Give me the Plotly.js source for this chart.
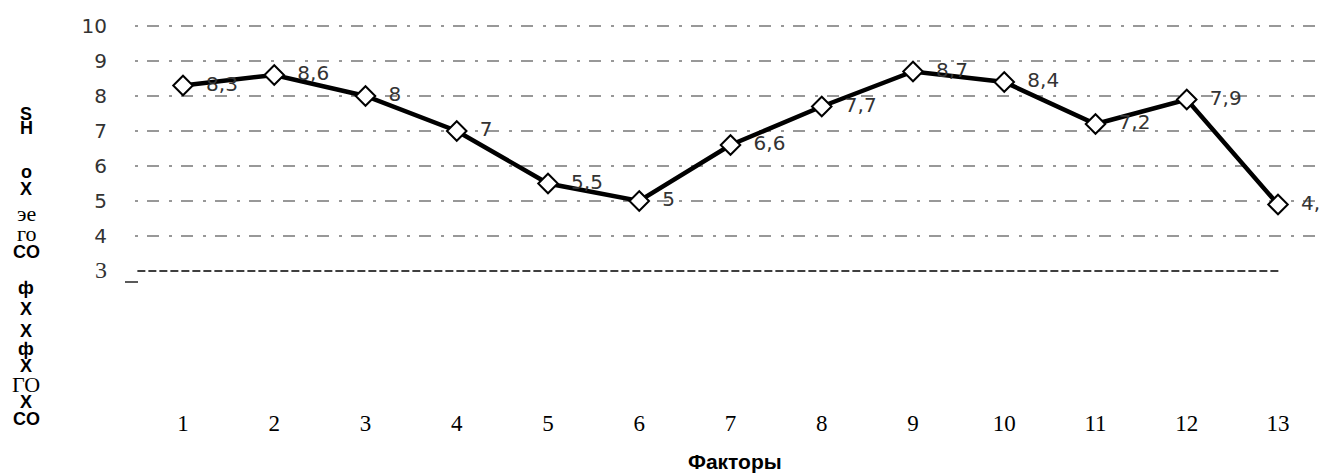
<!DOCTYPE html>
<html>
<head>
<meta charset="utf-8">
<script src="https://cdn.plot.ly/plotly-3.0.1.min.js"></script>
<style>html,body{margin:0;padding:0;background:#fff;}#chart{width:1320px;height:474px;}</style>
</head>
<body>
<div id="chart"></div>
<script>
// ---- data ----
const factors = [1, 2, 3, 4, 5, 6, 7, 8, 9, 10, 11, 12, 13];
const factorLabels = ['1','2','3','4','5','6','7','8','9','10','11','12','13'];
const values = [8.3, 8.6, 8, 7, 5.5, 5, 6.6, 7.7, 8.7, 8.4, 7.2, 7.9, 4.9];
const yTicks = [3, 4, 5, 6, 7, 8, 9, 10];
const yTickLabels = ['<span style="font-family:Liberation Serif;font-size:24px">3</span>','4','5','6','7','8','9','10'];
const xTitle = 'Факторы';
const yTitleParts = ['S','H','o','X','эе','го','CO','ф','X','X','ф','X','ГО','X','CO'];
const serifParts = ['эе','го','ГО'];

// ---- layout geometry (pixels) ----
const W = 1320, H = 474;
const mL = 135, mR = 0, mT = 15, mB = 79;
const plotH = H - mT - mB, plotW = W - mL - mR;
const yTitleY = [114, 128, 172, 189, 213, 233, 252, 288, 309, 331, 349, 366, 384, 402, 419];
const pyToPaper = py => (H - mB - py) / plotH;
const pxToPaper = px => (px - mL) / plotW;

const labels = values.map(v => '\u00a0\u00a0' + String(v).replace('.', ','));

const trace = {
  x: factors,
  y: values,
  type: 'scatter',
  mode: 'lines+markers+text',
  text: labels,
  textposition: 'middle right',
  textfont: {family: 'DejaVu Sans', size: 20, color: '#333'},
  cliponaxis: false,
  line: {color: '#000', width: 4.5},
  marker: {symbol: 'diamond', size: 15, color: '#fff', line: {color: '#000', width: 2}},
  hoverinfo: 'skip'
};

const shapes = [];
// broken grid lines at each level above the base
yTicks.slice(1).forEach(v => {
  shapes.push({type: 'line', xref: 'paper', yref: 'y', x0: 0, x1: 1, y0: v, y1: v,
    line: {color: '#777', width: 1.3, dash: '3px,9px,12px,10px'}, layer: 'below'});
});
// dashed base line at the lowest level
shapes.push({type: 'line', xref: 'x', yref: 'y', x0: factors[0] - 0.5, x1: factors[factors.length - 1] + 0.03,
  y0: yTicks[0], y1: yTicks[0], line: {color: '#000', width: 1.6, dash: '8px,3px'}});
// small underscore under the base label
shapes.push({type: 'line', xref: 'paper', yref: 'paper', x0: pxToPaper(125), x1: pxToPaper(138),
  y0: pyToPaper(282), y1: pyToPaper(282), line: {color: '#000', width: 1.3}});

const annotations = yTitleParts.map((t, i) => {
  const serif = serifParts.includes(t);
  return {
    text: serif ? t : '<b>' + t + '</b>',
    xref: 'paper', yref: 'paper',
    x: pxToPaper(26), y: pyToPaper(yTitleY[i]),
    xanchor: 'center', yanchor: 'middle', showarrow: false,
    font: serif ? {family: 'Liberation Serif', size: 22, color: '#000'}
                : {family: 'Liberation Sans', size: 18, color: '#000'}
  };
});
annotations.push({
  text: '<b>' + xTitle + '</b>', xref: 'paper', yref: 'paper',
  x: pxToPaper(735), y: pyToPaper(461), xanchor: 'center', yanchor: 'middle', showarrow: false,
  font: {family: 'Liberation Sans', size: 21, color: '#000'}
});

const unit = 35; // px per y unit
const yTop = 10 + (26 - mT) / unit;
const yBottom = yTop - plotH / unit;
const xUnit = 91.25;
const xLeft = factors[0] - (183 - mL) / xUnit;
const xRight = xLeft + plotW / xUnit;

const layout = {
  width: W, height: H,
  margin: {l: mL, r: mR, t: mT, b: mB, pad: 0},
  paper_bgcolor: '#fff', plot_bgcolor: '#fff',
  showlegend: false,
  xaxis: {
    range: [xLeft, xRight], tickmode: 'array', tickvals: factors, ticktext: factorLabels,
    showgrid: false, zeroline: false, showline: false,
    ticks: 'outside', ticklen: 7, tickcolor: 'rgba(0,0,0,0)',
    tickfont: {family: 'Liberation Serif', size: 23, color: '#000'}
  },
  yaxis: {
    range: [yBottom, yTop], tickmode: 'array', tickvals: yTicks, ticktext: yTickLabels,
    showgrid: false, zeroline: false, showline: false,
    ticks: 'outside', ticklen: 23, tickcolor: 'rgba(0,0,0,0)',
    tickfont: {family: 'DejaVu Sans', size: 20, color: '#333'}
  },
  shapes: shapes,
  annotations: annotations
};

Plotly.newPlot('chart', [trace], layout, {displayModeBar: false, staticPlot: true});
</script>
</body>
</html>
